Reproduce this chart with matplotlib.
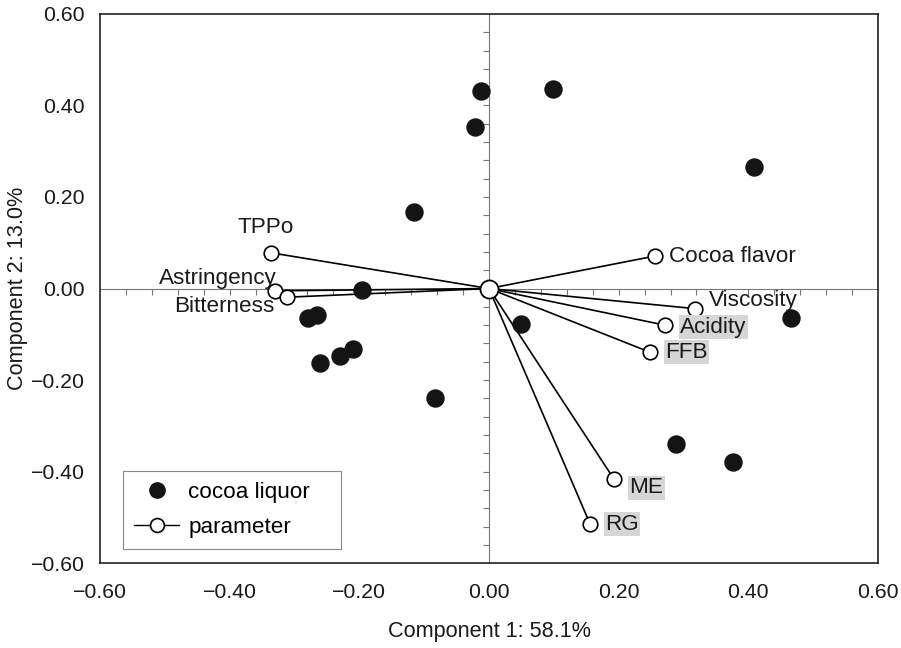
import numpy as np
import matplotlib
matplotlib.use("Agg")
import matplotlib.pyplot as plt
from matplotlib.lines import Line2D

plt.rcParams["font.family"] = ["Liberation Sans", "DejaVu Sans"]

# cocoa liquor scores
liquor_x = [-0.012, -0.022, 0.099, 0.409, -0.116, -0.196, -0.279, -0.265,
            -0.261, -0.230, -0.210, -0.083, 0.049, 0.466, 0.288, 0.376]
liquor_y = [0.432, 0.353, 0.436, 0.266, 0.167, -0.003, -0.064, -0.058,
            -0.163, -0.148, -0.132, -0.239, -0.078, -0.064, -0.340, -0.379]

# parameter loadings
params = ["TPPo", "Astringency", "Bitterness", "Cocoa flavor", "Viscosity",
          "Acidity", "FFB", "ME", "RG"]
param_x = [-0.336, -0.330, -0.312, 0.256, 0.318, 0.271, 0.248, 0.193, 0.156]
param_y = [0.078, -0.005, -0.019, 0.071, -0.044, -0.080, -0.139, -0.417, -0.515]
shaded = ["Acidity", "FFB", "ME", "RG"]

# label offsets in points (dx, dy, ha)
offsets = {
    "TPPo": (-4, 18, "center"),
    "Astringency": (1, 9, "right"),
    "Bitterness": (-9, -7, "right"),
    "Cocoa flavor": (10, 0, "left"),
    "Viscosity": (10, 6, "left"),
    "Acidity": (11, -1.5, "left"),
    "FFB": (11, 0, "left"),
    "ME": (11, -6, "left"),
    "RG": (11, 0, "left"),
}

ticks = [-0.6, -0.4, -0.2, 0.0, 0.2, 0.4, 0.6]
tick_labels = ["\u22120.60", "\u22120.40", "\u22120.20", "0.00",
               "0.20", "0.40", "0.60"]

fs = 16.2
fig = plt.figure(figsize=(9.01, 6.48), dpi=100)
ax = fig.add_axes([0.111, 0.131, 0.8635, 0.8475])
ax.set_xlim(-0.6, 0.6)
ax.set_ylim(-0.6, 0.6)

# center cross with small ticks
ax.axhline(0, color="#777777", lw=0.8, zorder=1)
ax.axvline(0, color="#777777", lw=0.8, zorder=1)
tk = np.arange(-0.56, 0.57, 0.04)
tk = tk[np.abs(tk) > 0.01]
ax.plot(tk, np.zeros_like(tk), ls="none", marker=3, ms=4, mew=0.8,
        color="#777777", zorder=1)
ax.plot(np.zeros_like(tk), tk, ls="none", marker=0, ms=4, mew=0.8,
        color="#777777", zorder=1)

# loading vectors
for px, py in zip(param_x, param_y):
    ax.plot([0, px], [0, py], color="black", lw=1.2, zorder=2)
ax.scatter(param_x, param_y, s=110, facecolor="white", edgecolor="black",
           linewidth=1.2, zorder=4)
ax.scatter([0], [0], s=170, facecolor="white", edgecolor="black",
           linewidth=1.3, zorder=5)

ax.scatter(liquor_x, liquor_y, s=150, color="#141414", zorder=3)

for name, px, py in zip(params, param_x, param_y):
    dx, dy, ha = offsets[name]
    bbox = None
    if name in shaded:
        bbox = dict(facecolor="#d6d6d6", edgecolor="none", pad=1.0)
    ax.annotate(name, (px, py), xytext=(dx, dy), textcoords="offset points",
                ha=ha, va="center", fontsize=fs, color="#1a1a1a",
                bbox=bbox, zorder=6)

ax.set_xticks(ticks)
ax.set_yticks(ticks)
ax.set_xticklabels(tick_labels)
ax.set_yticklabels(tick_labels)
ax.tick_params(length=0, labelsize=15.3, labelcolor="#1a1a1a")
ax.tick_params(axis="x", pad=14)
ax.tick_params(axis="y", pad=11)
for s in ax.spines.values():
    s.set_linewidth(1.2)
    s.set_color("#222222")

ax.set_xlabel("Component 1: 58.1%", fontsize=15.6, labelpad=14,
              color="#1a1a1a")
ax.set_ylabel("Component 2: 13.0%", fontsize=15.6, labelpad=2,
              color="#1a1a1a")

handles = [
    Line2D([], [], ls="none", marker="o", ms=11, color="#141414"),
    Line2D([], [], color="black", lw=1.0, marker="o", ms=10,
           mfc="white", mec="black", mew=1.2),
]
leg = ax.legend(handles, ["cocoa liquor", "parameter"], loc="lower left",
                bbox_to_anchor=(0.0296, 0.0255, 0.280, 0.1), mode="expand",
                borderaxespad=0, fontsize=fs, fancybox=False,
                edgecolor="#888888", framealpha=1, handlelength=2.0,
                handletextpad=0.4, borderpad=0.5, labelspacing=0.6)
leg.get_frame().set_linewidth(0.8)

fig.savefig("out.png", dpi=100)
